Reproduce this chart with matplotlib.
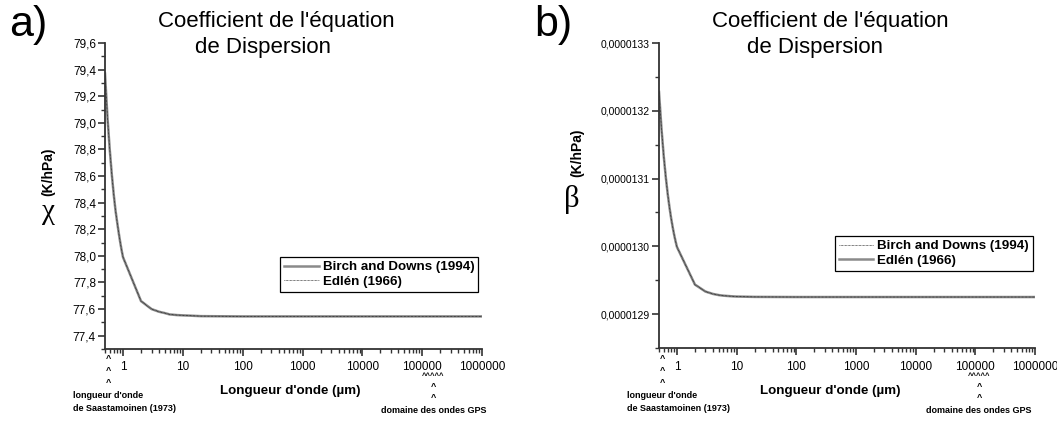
import numpy as np
import matplotlib
matplotlib.use("Agg")
import matplotlib.pyplot as plt
from matplotlib.ticker import FuncFormatter, FixedLocator, MultipleLocator, LogLocator, NullFormatter
from matplotlib.lines import Line2D
import matplotlib.transforms as mtransforms

plt.rcParams['font.family'] = ['Liberation Sans', 'DejaVu Sans']

# longueur d'onde (um)
lam = [0.5, 0.55, 0.6, 0.65, 0.7, 0.75, 0.8, 0.85, 0.9, 0.95, 1, 2, 3, 4, 5, 6, 8, 10, 20,
       100, 1000, 10000, 100000, 1000000]

# a) chi (K/hPa)
chi_birch = [79.37, 79.04, 78.80, 78.61, 78.46, 78.34, 78.25, 78.17, 78.10, 78.04, 77.99, 77.66,
             77.60, 77.58, 77.57, 77.56, 77.555, 77.553, 77.547, 77.545, 77.545, 77.545, 77.545, 77.545]
chi_edlen = [79.37, 79.04, 78.80, 78.61, 78.46, 78.34, 78.25, 78.17, 78.10, 78.04, 77.99, 77.66,
             77.60, 77.58, 77.57, 77.56, 77.555, 77.553, 77.547, 77.545, 77.545, 77.545, 77.545, 77.545]

# b) beta (K/hPa)
beta_birch = [1.32278e-5, 1.31739e-5, 1.31333e-5, 1.31019e-5, 1.30771e-5, 1.30573e-5, 1.30410e-5,
              1.30277e-5, 1.30164e-5, 1.30070e-5, 1.29990e-5, 1.29436e-5, 1.29333e-5, 1.29298e-5,
              1.29281e-5, 1.29272e-5, 1.29264e-5, 1.29259e-5, 1.29254e-5, 1.29252e-5, 1.29252e-5,
              1.29252e-5, 1.29252e-5, 1.29252e-5]
beta_edlen = [1.32278e-5, 1.31739e-5, 1.31333e-5, 1.31019e-5, 1.30771e-5, 1.30573e-5, 1.30410e-5,
              1.30277e-5, 1.30164e-5, 1.30070e-5, 1.29990e-5, 1.29436e-5, 1.29333e-5, 1.29298e-5,
              1.29281e-5, 1.29272e-5, 1.29264e-5, 1.29259e-5, 1.29254e-5, 1.29252e-5, 1.29252e-5,
              1.29252e-5, 1.29252e-5, 1.29252e-5]

xticks = [1, 10, 100, 1000, 10000, 100000, 1000000]
chi_ticks = [77.4, 77.6, 77.8, 78.0, 78.2, 78.4, 78.6, 78.8, 79.0, 79.2, 79.4, 79.6]
beta_ticks = [1.29e-5, 1.30e-5, 1.31e-5, 1.32e-5, 1.33e-5]

W, H = 1057, 423
fig = plt.figure(figsize=(W / 100, H / 100), dpi=100)

def fx(p):
    return p / W

def fy(p):
    return 1 - p / H

GRAY = '#8a8a8a'
DARK = '#333333'

def style_axis(ax, ysize):
    for s in ['top', 'right']:
        ax.spines[s].set_visible(False)
    for s in ['left', 'bottom']:
        ax.spines[s].set_linewidth(1.3)
        ax.spines[s].set_color(DARK)
    ax.set_xscale('log')
    ax.set_xlim(0.5, 1000000)
    ax.xaxis.set_major_locator(FixedLocator(xticks))
    ax.xaxis.set_minor_locator(LogLocator(base=10, subs=np.arange(2, 10)))
    ax.xaxis.set_minor_formatter(NullFormatter())
    ax.xaxis.set_major_formatter(FuncFormatter(lambda v, p: '%d' % v))
    ax.tick_params(axis='both', which='major', direction='out', length=5, width=1.2, color=DARK)
    ax.tick_params(axis='both', which='minor', direction='out', length=3, width=1.0, color=DARK)
    ax.tick_params(axis='x', which='major', labelsize=8.5, pad=4)
    ax.tick_params(axis='y', which='major', labelsize=ysize, pad=1.5)

# ---------- a)
ax1 = fig.add_axes([fx(105), 1 - 349 / H, fx(377), 306 / H])
ax1.plot(lam, chi_birch, color=GRAY, lw=1.8)
ax1.plot(lam, chi_edlen, color='black', lw=0.5, ls=(0, (1, 1)))
style_axis(ax1, 8.5)
ax1.set_ylim(77.3, 79.6)
ax1.yaxis.set_major_locator(FixedLocator(chi_ticks))
ax1.yaxis.set_minor_locator(MultipleLocator(0.1))
ax1.yaxis.set_major_formatter(FuncFormatter(lambda v, p: ('%.1f' % v).replace('.', ',')))
h1 = [Line2D([], [], color=GRAY, lw=1.8), Line2D([], [], color='black', lw=0.5, ls=(0, (1, 1)))]
leg1 = ax1.legend(h1, ['Birch and Downs (1994)', 'Edlén (1966)'], loc='lower right',
                  bbox_to_anchor=(0.99, 0.187), borderaxespad=0, fancybox=False, edgecolor='black',
                  framealpha=1, prop={'weight': 'bold', 'size': 9.6}, handlelength=2.6,
                  handletextpad=0.3, labelspacing=0.15, borderpad=0.3)
leg1.get_frame().set_linewidth(0.9)

# ---------- b)
ax2 = fig.add_axes([fx(659), 1 - 348 / H, fx(376), 305 / H])
ax2.plot(lam, beta_edlen, color=GRAY, lw=1.8)
ax2.plot(lam, beta_birch, color='black', lw=0.5, ls=(0, (1, 1)))
style_axis(ax2, 7.5)
ax2.set_ylim(1.2850e-5, 1.3300e-5)
ax2.yaxis.set_major_locator(FixedLocator(beta_ticks))
ax2.yaxis.set_minor_locator(MultipleLocator(0.5e-7))
ax2.yaxis.set_major_formatter(FuncFormatter(lambda v, p: ('%.7f' % v).replace('.', ',')))
h2 = [Line2D([], [], color='black', lw=0.5, ls=(0, (1, 1))), Line2D([], [], color=GRAY, lw=1.8)]
leg2 = ax2.legend(h2, ['Birch and Downs (1994)', 'Edlén (1966)'], loc='lower right',
                  bbox_to_anchor=(0.995, 0.254), borderaxespad=0, fancybox=False, edgecolor='black',
                  framealpha=1, prop={'weight': 'bold', 'size': 9.6}, handlelength=2.6,
                  handletextpad=0.3, labelspacing=0.15, borderpad=0.3)
leg2.get_frame().set_linewidth(0.9)

# labels and titles
for ax, tag, xl, t1x, t2x, xlab, ylab in [
        (ax1, 'a)', 9, 158, 195, 0.492, -0.137),
        (ax2, 'b)', 534, 712, 747, 0.455, -0.141)]:
    fig.text(fx(xl), fy(25), tag, fontsize=31, va='center', ha='left')
    fig.text(fx(t1x), fy(22), "Coefficient de l'équation", fontsize=16, va='center', ha='left')
    fig.text(fx(t2x), fy(48), 'de Dispersion', fontsize=16, va='center', ha='left')
    ax.set_xlabel("Longueur d'onde (µm)", fontsize=9.6, fontweight='bold')
    ax.xaxis.set_label_coords(xlab, ylab)
    ax.xaxis.label.set_va('center')

# y labels: upright greek symbol + rotated unit
fig.text(fx(48), fy(212), 'χ', fontsize=21, family='Liberation Serif', va='center', ha='center')
fig.text(fx(48.5), fy(172), '(K/hPa)', fontsize=10, fontweight='bold', rotation=90, va='center', ha='center')
fig.text(fx(572), fy(199), 'β', fontsize=22, family='Liberation Serif', va='center', ha='center')
fig.text(fx(577), fy(153), '(K/hPa)', fontsize=10, fontweight='bold', rotation=90, va='center', ha='center')

# annotations under the x axis
ann = dict(fontsize=6.5, fontweight='bold', ha='center', va='center')
for ax, saas_x, saas_txt, gps_x in [(ax1, 0.56, 73, 1.55e5), (ax2, 0.56, 627, 1.15e5)]:
    tr = mtransforms.blended_transform_factory(ax.transData, fig.transFigure)
    for yy in [358, 370, 382]:
        ax.text(saas_x, fy(yy), '^', transform=tr, **ann)
    fig.text(fx(saas_txt), fy(395), "longueur d'onde", fontsize=6.5, fontweight='bold', va='center', ha='left')
    fig.text(fx(saas_txt), fy(408), 'de Saastamoinen (1973)', fontsize=6.5, fontweight='bold', va='center', ha='left')
    ax.text(gps_x, fy(376), '^^^^^', transform=tr, fontsize=5.5, fontweight='bold', ha='center', va='center')
    for yy in [386, 397]:
        ax.text(gps_x, fy(yy), '^', transform=tr, **ann)
    ax.text(gps_x, fy(410), 'domaine des ondes GPS', transform=tr, **ann)

fig.savefig('out.png', dpi=100)
